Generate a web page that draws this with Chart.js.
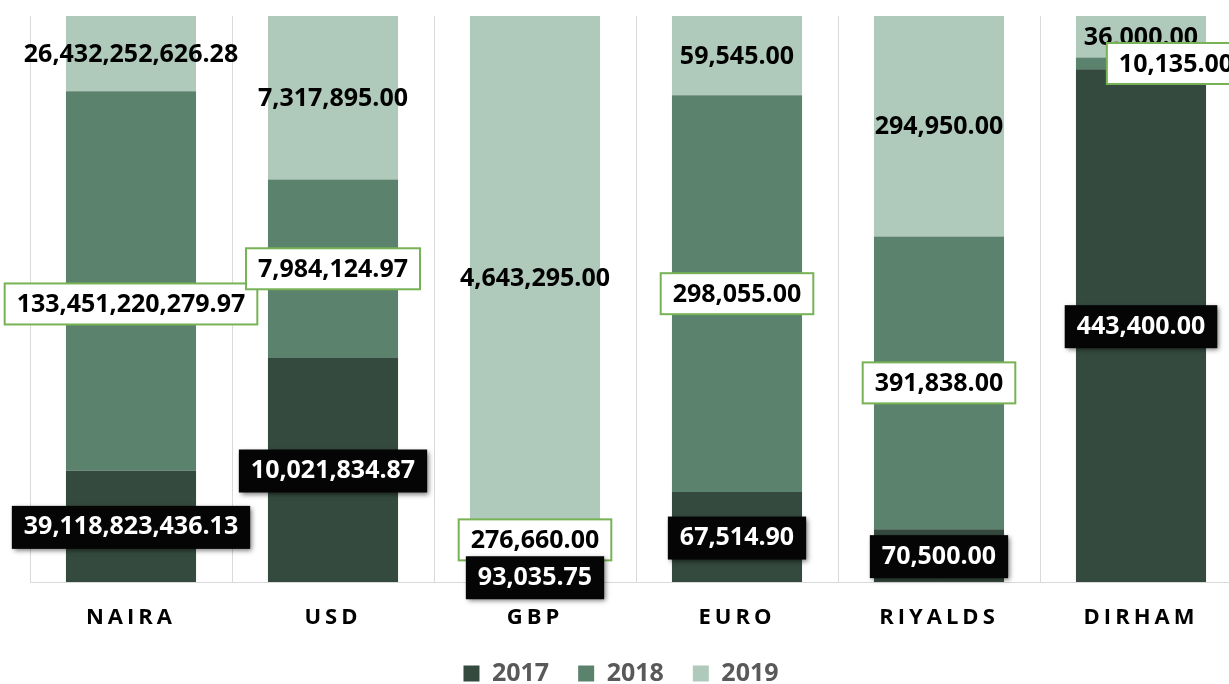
<!DOCTYPE html>
<html>
<head>
<meta charset="utf-8">
<script src="https://cdn.jsdelivr.net/npm/chart.js@4.4.1/dist/chart.umd.min.js"></script>
<style>
  html, body { margin: 0; padding: 0; background: #fff; overflow: hidden; }
  #wrap { width: 1242px; height: 696px; position: relative; }
</style>
</head>
<body>
<div id="wrap"><canvas id="myChart"></canvas></div>
<script>
const currencies = ['NAIRA', 'USD', 'GBP', 'EURO', 'RIYALDS', 'DIRHAM'];
const years = ['2017', '2018', '2019'];
const values2017 = [39118823436.13, 10021834.87, 93035.75, 67514.90, 70500.00, 443400.00];
const values2018 = [133451220279.97, 7984124.97, 276660.00, 298055.00, 391838.00, 10135.00];
const values2019 = [26432252626.28, 7317895.00, 4643295.00, 59545.00, 294950.00, 36000.00];
const colors = ['#354a3e', '#5b826d', '#afc9bb'];

const rawSeries = [values2017, values2018, values2019];
// each column is shown as 100% stacked
const totals = currencies.map((c, i) => rawSeries.reduce((s, arr) => s + arr[i], 0));
const share = arr => arr.map((v, i) => v * 100 / totals[i]);

const valueLabels = {
  id: 'valueLabels',
  afterDatasetsDraw(chart) {
    // spaced-out category names (ticks are drawn after the datasets)
    chart.ctx.letterSpacing = '4px';
  },
  afterDraw(chart, args, opts) {
    const ctx = chart.ctx;
    ctx.letterSpacing = '0px';
    ctx.save();
    ctx.font = 'bold 25px "Open Sans"';
    ctx.textAlign = 'center';
    ctx.textBaseline = 'middle';
    [2, 1, 0].forEach(d => {
      const meta = chart.getDatasetMeta(d);
      meta.data.forEach((bar, i) => {
        const text = rawSeries[d][i].toLocaleString('en-US', {minimumFractionDigits: 2, maximumFractionDigits: 2});
        const nudge = opts.nudge[d + '-' + i] || [0, 0];
        const x = bar.x + nudge[0];
        const y = (bar.y + bar.base) / 2 + nudge[1];
        const w = ctx.measureText(text).width + 24;
        const h = 41;
        if (d === 0) {
          ctx.save();
          ctx.shadowColor = 'rgba(0,0,0,0.55)';
          ctx.shadowBlur = 5;
          ctx.shadowOffsetX = 2;
          ctx.shadowOffsetY = 2;
          ctx.fillStyle = '#050505';
          ctx.fillRect(x - w / 2, y - h / 2, w, h + 2);
          ctx.restore();
          ctx.fillStyle = '#fff';
        } else if (d === 1) {
          ctx.fillStyle = '#fff';
          ctx.fillRect(x - w / 2, y - h / 2, w, h);
          ctx.strokeStyle = '#77b255';
          ctx.lineWidth = 2;
          ctx.strokeRect(x - w / 2, y - h / 2, w, h);
          ctx.fillStyle = '#000';
        } else {
          ctx.fillStyle = '#000';
        }
        ctx.fillText(text, x, y + 1);
      });
    });
    ctx.restore();
  }
};

const data = {
  labels: currencies,
  datasets: years.map((y, d) => ({
    label: y,
    data: share(rawSeries[d]),
    backgroundColor: colors[d],
    borderWidth: 0,
    barPercentage: 0.644,
    categoryPercentage: 1,
  }))
};

const config = {
  type: 'bar',
  data: data,
  options: {
    responsive: true,
    maintainAspectRatio: false,
    animation: false,
    devicePixelRatio: 1,
    layout: { padding: { left: 0, right: 0, top: 16, bottom: 0 } },
    scales: {
      x: {
        stacked: true,
        offset: true,
        grid: { offset: true, color: '#d9d9d9', drawTicks: false },
        border: { color: '#d9d9d9' },
        ticks: {
          z: 1,
          color: '#000',
          padding: 23,
          maxRotation: 0,
          autoSkip: false,
          font: { family: 'Open Sans', weight: 'bold', size: 22 },
        },
        afterFit: scale => { scale.height = 50; },
      },
      y: {
        stacked: true,
        min: 0,
        max: 100,
        ticks: { display: false },
        grid: { display: false },
        border: { display: false },
        afterFit: scale => { scale.width = 30; },
      },
    },
    plugins: {
      legend: {
        position: 'bottom',
        labels: {
          boxWidth: 16,
          boxHeight: 16,
          padding: 29,
          color: '#595959',
          font: { family: 'Open Sans', weight: 'bold', size: 25 },
        },
      },
      tooltip: { enabled: false },
      valueLabels: {
        nudge: { '1-0': [0, 23], '1-2': [0, -16], '1-5': [35, 0] },
      },
    },
  },
  plugins: [valueLabels],
};

const myChart = new Chart(document.getElementById('myChart'), config);
</script>
</body>
</html>
